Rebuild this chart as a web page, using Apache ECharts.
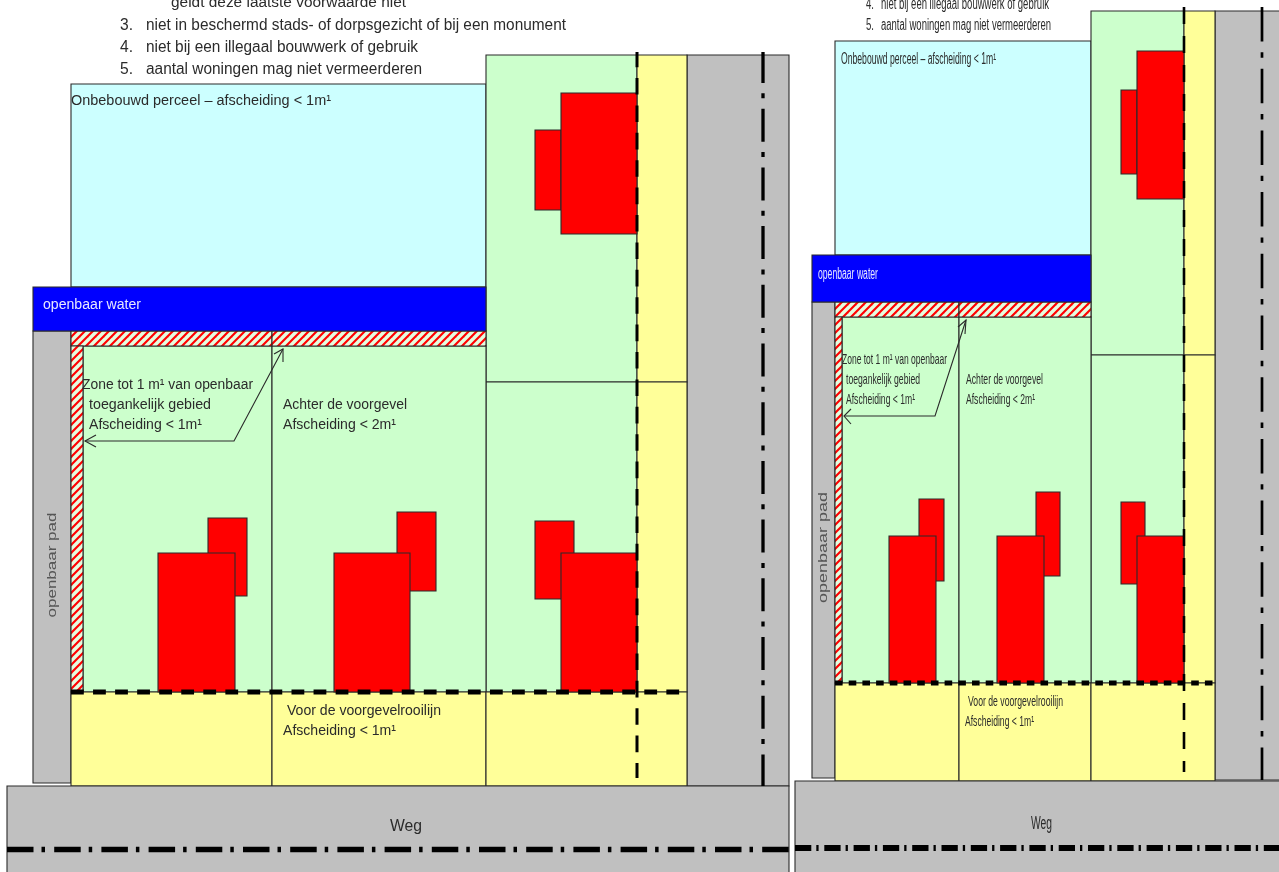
<!DOCTYPE html>
<html><head><meta charset="utf-8">
<style>html,body{margin:0;padding:0;background:#fff}#c{width:1279px;height:872px}</style>
<script src="https://cdn.jsdelivr.net/npm/echarts@6/dist/echarts.min.js"></script>
</head><body><div id="c"></div>
<script>
// Rectangles: [x0, y0, x1, y1]
const roadRects = [[7,786,789,880],[795,781,1285,880]];
const grayRects = [[687,55,789,786],[33,331,71,783],[1215,11,1285,780],[812,302,835,778]];
const skyRects = [[71,84,486,287],[835,41,1091,255]];
const waterRects = [[33,287,486,331],[812,255,1091,302]];
const lawnRects = [[486,55,637,382],[486,382,637,692],[83,346,272,692],[272,346,486,692],
  [1091,11,1184,355],[1091,355,1184,683],[842,317,959,683],[959,317,1091,683]];
const frontRects = [[637,55,687,382],[637,382,687,692],[71,692,272,786],[272,692,486,786],[486,692,687,786],
  [1184,11,1215,355],[1184,355,1215,683],[835,683,959,781],[959,683,1091,781],[1091,683,1215,781]];
const hatchRects = [[71,331,272,346],[272,331,486,346],[71,346,83,692],[835,302,959,317],[959,302,1091,317],[835,317,842,683]];
const houseRects = [[535,130,561,210],[561,93,637,234],[208,518,247,596],[158,553,235,692],
  [397,512,436,591],[334,553,410,692],[535,521,574,599],[561,553,637,692],
  [1121,90,1137,174],[1137,51,1184,199],[919,499,944,581],[889,536,936,683],
  [1036,492,1060,576],[997,536,1044,683],[1121,502,1145,584],[1137,536,1184,683]];
// Lines: [x0, y0, x1, y1]
const leftBuildingLine = [[637,52,637,778]];
const rightBuildingLine = [[1184,7,1184,772]];
const leftFrontLine = [[71,692,687,692]];
const rightFrontLine = [[835,683,1215,683]];
const leftAxisLine = [[763,52,763,786]];
const rightAxisLine = [[1262,7,1262,780]];
const roadAxisLeft = [[7,849.5,789,849.5]];
const roadAxisRight = [[795,848,1279,848]];
const arrowPaths = [
  [[85,441],[234,441],[283,349]],[[96,435],[85,441],[96,447]],[[274,354],[283,349],[283,362]],
  [[844,416],[935,416],[966,320]],[[851,409],[844,416],[851,424]],[[958,327],[966,320],[965,334]]
];
// Texts
const labelTexts = ["geldt deze laatste voorwaarde niet","3.","niet in beschermd stads- of dorpsgezicht of bij een monument",
 "4.","niet bij een illegaal bouwwerk of gebruik","5.","aantal woningen mag niet vermeerderen",
 "Onbebouwd perceel – afscheiding < 1m¹","openbaar water","Zone tot 1 m¹ van openbaar","toegankelijk gebied","Afscheiding < 1m¹",
 "Achter de voorgevel","Afscheiding < 2m¹","Voor de voorgevelrooilijn","Afscheiding < 1m¹","Weg",
 "4.","niet bij een illegaal bouwwerk of gebruik","5.","aantal woningen mag niet vermeerderen",
 "Onbebouwd perceel – afscheiding < 1m¹","openbaar water","Zone tot 1 m¹ van openbaar","toegankelijk gebied","Afscheiding < 1m¹",
 "Achter de voorgevel","Afscheiding < 2m¹","Voor de voorgevelrooilijn","Afscheiding < 1m¹","Weg"];
// label layout: x, y, fitted width, font size
const labelLayout = [[171,3,235,14],[120,26,13,16],[146,26,420,16],[120,48,13,16],[146,48,272,16],[120,70,13,16],[146,70,276,16],
 [71,101,260,14],[43,305,98,14],[82,385,171,14],[89,405,122,14],[89,425,113,14],
 [283,405,124,14],[283,425,113,14],[287,711,154,14],[283,731,113,14],[390,827,32,16],
 [866,5,8,16],[881,5,168,16],[866,26,8,16],[881,26,170,16],
 [841,60,155,16],[818,275,60,16],[842,360,105,15],[846,380,74,15],[846,400,69,15],
 [966,380,77,15],[966,400,69,15],[968,702,95,15],[965,722,69,15],[1031,824,21,18]];
const sideLabels = ["openbaar pad","openbaar pad"];
const sideLayout = [[52.5,565,105,13],[823.5,547.5,111,12]];

const chart = echarts.init(document.getElementById('c'));
const measure = document.createElement('canvas').getContext('2d');
const FONT = '"Liberation Sans", Arial, sans-serif';

function hatch(){
  const c = document.createElement('canvas'); c.width = 8; c.height = 8;
  const g = c.getContext('2d');
  g.fillStyle = '#e4fde0'; g.fillRect(0,0,8,8);
  g.strokeStyle = '#ff0000'; g.lineWidth = 2.1;
  [[-4,4,4,-4],[0,8,8,0],[4,12,12,4]].forEach(s=>{g.beginPath();g.moveTo(s[0],s[1]);g.lineTo(s[2],s[3]);g.stroke();});
  return c;
}
function rects(data, fill, z){
  return {type:'custom', coordinateSystem:'cartesian2d', data, z, silent:true, clip:false,
    encode:{x:[0,2],y:[1,3]},
    renderItem:(p,api)=>{
      const a = api.coord([api.value(0),api.value(1)]), b = api.coord([api.value(2),api.value(3)]);
      return {type:'rect', shape:{x:a[0],y:a[1],width:b[0]-a[0],height:b[1]-a[1]},
        style:{fill, stroke:'#2a2a2a', lineWidth:1.1}};
    }};
}
function lines(data, width, dash, z, offset){
  return {type:'custom', coordinateSystem:'cartesian2d', data, z, silent:true, clip:false,
    encode:{x:[0,2],y:[1,3]},
    renderItem:(p,api)=>{
      const a = api.coord([api.value(0),api.value(1)]), b = api.coord([api.value(2),api.value(3)]);
      return {type:'line', shape:{x1:a[0],y1:a[1],x2:b[0],y2:b[1]},
        style:{stroke:'#000', lineWidth:width, lineDash:dash, lineDashOffset:offset||0, fill:null}};
    }};
}
function paths(list, z){
  return {type:'custom', coordinateSystem:'cartesian2d', data:list.map(p=>p[0]), z, silent:true, clip:false,
    renderItem:(p,api)=>({type:'polyline', shape:{points:list[p.dataIndex].map(q=>api.coord(q))},
      style:{stroke:'#2a2a2a', lineWidth:1.1, fill:null}})};
}
function texts(strings, layout, z, rotation, color){
  return {type:'custom', coordinateSystem:'cartesian2d', data:layout.map(l=>[l[0],l[1]]), z, silent:true, clip:false,
    renderItem:(p,api)=>{
      const l = layout[p.dataIndex], s = strings[p.dataIndex], font = l[3]+'px '+FONT;
      const c = api.coord([l[0],l[1]]);
      measure.font = font;
      const sx = l[2]/measure.measureText(s).width;
      const isWhite = s==='openbaar water';
      return {type:'text', x:c[0], y:c[1], scaleX:sx, rotation:rotation||0,
        style:{text:s, font, fill:isWhite?'#e8e8ff':(color||'#2b2b2b'),
          textAlign:rotation?'center':'left', textVerticalAlign:'middle', verticalAlign:'middle'}};
    }};
}
chart.setOption({
  animation:false, backgroundColor:'#fff',
  grid:{left:0,right:0,top:0,bottom:0,containLabel:false},
  xAxis:{type:'value',min:0,max:1279,show:false},
  yAxis:{type:'value',min:0,max:872,inverse:true,show:false},
  series:[
    rects(skyRects,'#ccffff',2),
    rects(grayRects,'#c0c0c0',3),
    rects(lawnRects,'#ccffcc',4),
    rects(frontRects,'#ffff99',5),
    rects(hatchRects,{image:hatch(),repeat:'repeat'},6),
    rects(waterRects,'#0000ff',7),
    rects(roadRects,'#c0c0c0',8),
    rects(houseRects,'#ff0000',9),
    lines(leftBuildingLine,3,[16.6,10.8],10,1.4),
    lines(rightBuildingLine,2.6,[17,12],10,0),
    lines(leftFrontLine,5,[12.8,9.25],10,0),
    lines(rightFrontLine,5,[7.6,6.1],10,0),
    lines(leftAxisLine,3.3,[33,10.3,5,10.4],10,2),
    lines(rightAxisLine,2.7,[34.5,10.8,5.4,11],10,0),
    lines(roadAxisLeft,5.5,[26.5,8,3.5,9.2],11,0),
    lines(roadAxisRight,6,[16.3,5,2.3,5.7],11,0),
    paths(arrowPaths,12),
    texts(labelTexts,labelLayout,13),
    texts(sideLabels,sideLayout,13,Math.PI/2,'#555')
  ]
});
</script></body></html>
